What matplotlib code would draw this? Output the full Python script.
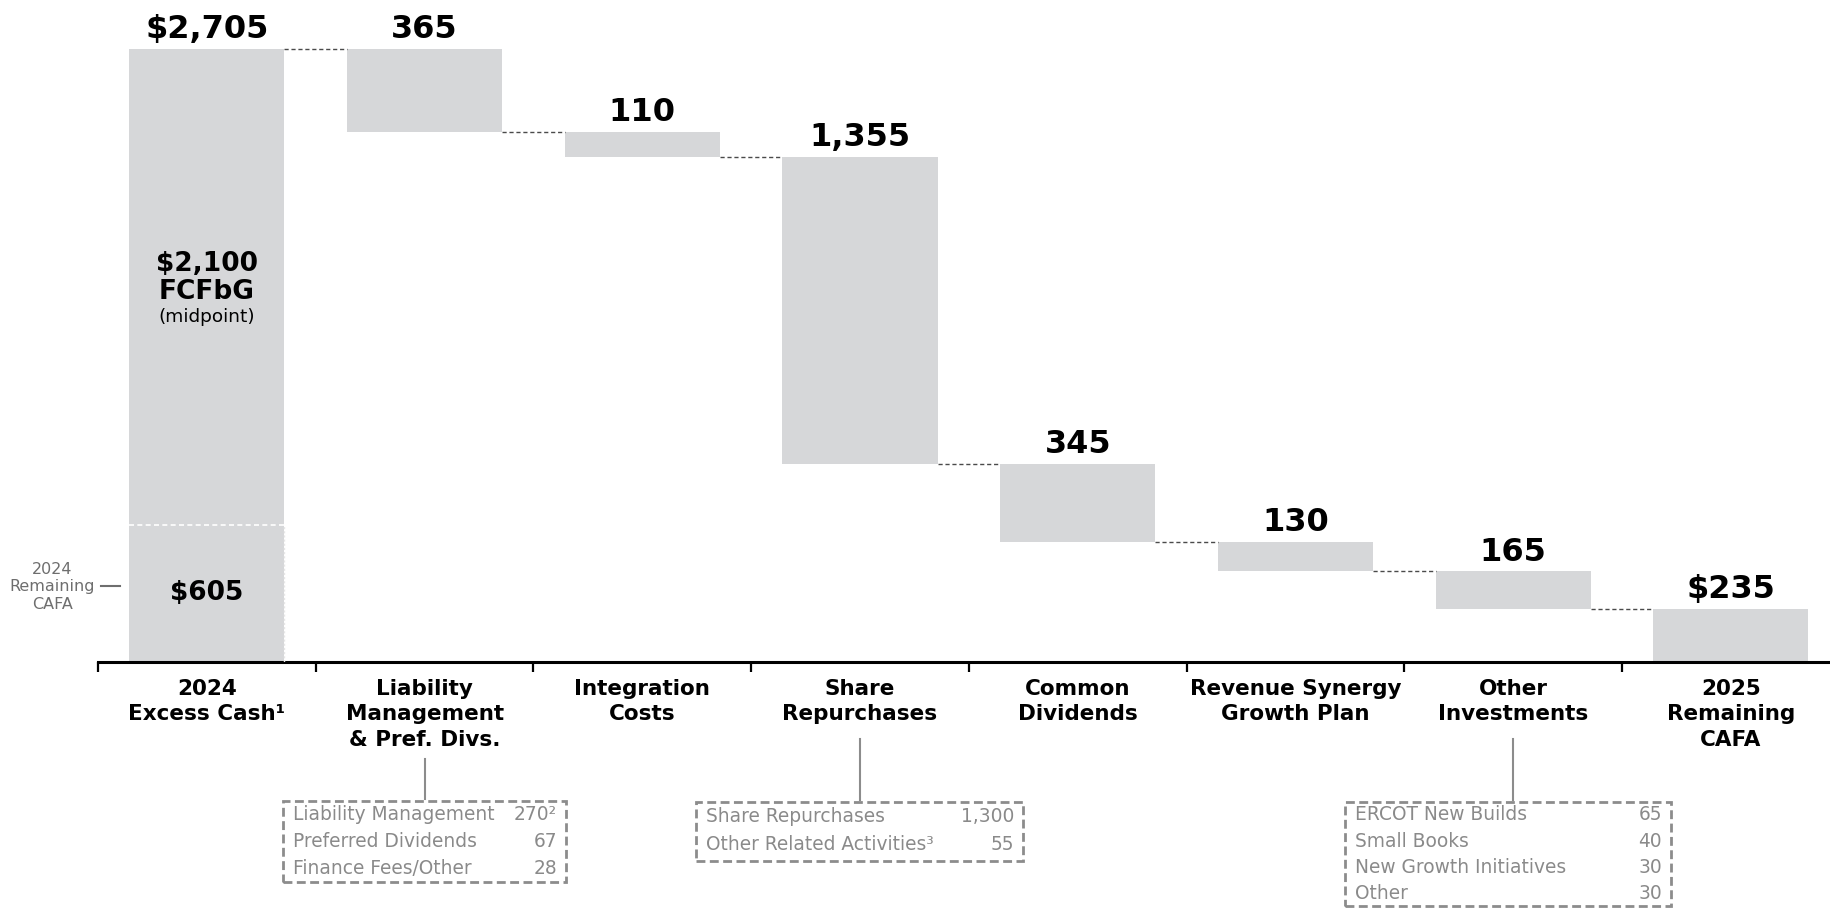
import matplotlib
matplotlib.use("Agg")
import matplotlib.pyplot as plt
import matplotlib.transforms as mtransforms
from matplotlib.patches import Rectangle
from matplotlib.lines import Line2D
import numpy as np

# ---- data -------------------------------------------------------------
categories = [
    "2024\nExcess Cash\u00b9",
    "Liability\nManagement\n& Pref. Divs.",
    "Integration\nCosts",
    "Share\nRepurchases",
    "Common\nDividends",
    "Revenue Synergy\nGrowth Plan",
    "Other\nInvestments",
    "2025\nRemaining\nCAFA",
]
remaining_cafa_2024 = 605
fcfbg_midpoint = 2100
uses = [365, 110, 1355, 345, 130, 165]

liab_items = ["Liability Management", "Preferred Dividends", "Finance Fees/Other"]
liab_values = ["270\u00b2", "67", "28"]
share_items = ["Share Repurchases", "Other Related Activities\u00b3"]
share_values = ["1,300", "55"]
other_items = ["ERCOT New Builds", "Small Books", "New Growth Initiatives", "Other"]
other_values = ["65", "40", "30", "30"]

# ---- derived waterfall levels ------------------------------------------
start_total = remaining_cafa_2024 + fcfbg_midpoint
levels = [start_total]
for u in uses:
    levels.append(levels[-1] - u)
end_total = levels[-1]

# ---- style ---------------------------------------------------------------
W, H = 1831, 909
BAR = "#d6d7d9"
GREY_TXT = "#8a8a8a"
BOX_EDGE = "#8c8c8c"
FONT = "DejaVu Sans"
plt.rcParams["font.family"] = [FONT]

fig = plt.figure(figsize=(W / 100, H / 100), dpi=100)
axis_px = 662
left_px = 98
ax = fig.add_axes([left_px / W, 1 - axis_px / H, 1 - left_px / W, axis_px / H])
ax.set_xlim(-0.5, 7.46)
ax.set_ylim(0, 2921)
for s in ("top", "right", "left"):
    ax.spines[s].set_visible(False)
ax.spines["bottom"].set_linewidth(2.2)
ax.spines["bottom"].set_color("black")
ax.set_yticks([])
ax.set_xticks(np.arange(-0.5, 7.0, 1.0))
ax.set_xticklabels([])
ax.tick_params(axis="x", length=7, width=1.6, direction="out", color="black")

bw = 0.713
n = len(categories)
xs = np.arange(n)

# first column: remaining CAFA + FCFbG stacked
ax.bar(0, remaining_cafa_2024, width=bw, color=BAR, linewidth=0, zorder=2)
ax.bar(0, fcfbg_midpoint, bottom=remaining_cafa_2024, width=bw, color=BAR,
       linewidth=0, zorder=2)
ax.hlines(remaining_cafa_2024, -bw / 2, bw / 2, colors="white",
          linestyles=(0, (3, 2)), linewidth=1.2, zorder=3)
ax.vlines(bw / 2, 0, remaining_cafa_2024, colors="#e6e6e6",
          linestyles=(0, (1.5, 1.5)), linewidth=1.0, zorder=3)

# floating use bars
for i, u in enumerate(uses, start=1):
    ax.bar(i, u, bottom=levels[i], width=bw, color=BAR, linewidth=0, zorder=2)

# ending column
ax.bar(n - 1, end_total, width=bw, color=BAR, linewidth=0, zorder=2)

# connectors
for i in range(n - 1):
    ax.hlines(levels[i], i + bw / 2, i + 1 - bw / 2, colors="#4a4a4a",
              linestyles=(0, (3, 2)), linewidth=1.0, zorder=2)

# value labels
tops = [start_total] + [levels[i - 1] for i in range(1, n - 1)] + [end_total]
labels = ["${:,}".format(start_total)] + ["{:,}".format(u) for u in uses] + \
         ["${:,}".format(end_total)]
for x, t, lab in zip(xs, tops, labels):
    ax.annotate(lab, (x, t), xytext=(0, 10.5), textcoords="offset pixels",
                ha="center", va="baseline", fontsize=23, fontweight="bold",
                color="black")

# labels inside the first column
mid_upper = remaining_cafa_2024 + fcfbg_midpoint / 2
ax.annotate("${:,}".format(fcfbg_midpoint), (0, mid_upper), xytext=(0, 23),
            textcoords="offset pixels", ha="center", va="center",
            fontsize=19, fontweight="bold")
ax.annotate("FCFbG", (0, mid_upper), xytext=(0, -5),
            textcoords="offset pixels", ha="center", va="center",
            fontsize=19, fontweight="bold")
ax.annotate("(midpoint)", (0, mid_upper), xytext=(0, -30),
            textcoords="offset pixels", ha="center", va="center", fontsize=13.3)
ax.annotate("${:,}".format(remaining_cafa_2024), (0, remaining_cafa_2024 / 2),
            ha="center", va="center", fontsize=19, fontweight="bold")

# left side note
fig.text(52.5 / W, 1 - 587 / H, "2024\nRemaining\nCAFA", ha="center",
         va="center", fontsize=11.5, color="#6e6e6e", linespacing=1.2)
fig.add_artist(Line2D([101 / W, 120 / W], [1 - 586 / H, 1 - 586 / H],
                      color="#6e6e6e", linewidth=1.5))

# category labels under the axis
bt = mtransforms.blended_transform_factory(ax.transData, fig.transFigure)
for x, c in zip(xs, categories):
    ax.text(x, 1 - 679 / H, c, transform=bt, ha="center", va="top",
            fontsize=15.5, fontweight="bold", linespacing=1.33,
            multialignment="center", clip_on=False)

# breakdown boxes
px_per_unit = (W - left_px) / 7.96


def breakdown(cx, width_px, top_px, bottom_px, row_first, row_step,
              items, values, stem_top):
    half = width_px / 2 / px_per_unit
    x0, x1 = cx - half, cx + half
    y0, y1 = 1 - bottom_px / H, 1 - top_px / H
    rect = Rectangle((x0, y0), x1 - x0, y1 - y0, transform=bt, fill=False,
                     edgecolor=BOX_EDGE, linewidth=2.0,
                     linestyle=(0, (3.2, 1.6)), clip_on=False)
    ax.add_patch(rect)
    stem_x = round(cx)
    ax.add_line(Line2D([stem_x, stem_x], [1 - stem_top / H, y1 + 2 / H],
                       transform=bt, color=BOX_EDGE, linewidth=1.5,
                       clip_on=False))
    pad_l = 10 / px_per_unit
    pad_r = 9 / px_per_unit
    for k, (it, v) in enumerate(zip(items, values)):
        yy = 1 - (top_px + row_first + k * row_step) / H
        ax.text(x0 + pad_l, yy, it, transform=bt, ha="left", va="center",
                fontsize=13.4, color=GREY_TXT, clip_on=False)
        ax.text(x1 - pad_r, yy, v, transform=bt, ha="right", va="center",
                fontsize=13.4, color=GREY_TXT, clip_on=False)


breakdown(1, 283, 801, 882, 14, 26.5, liab_items, liab_values, 759)
breakdown(3, 327, 802, 861, 14, 29, share_items, share_values, 739)
breakdown(6 - 0.024, 326, 802, 906, 13, 26.3, other_items, other_values, 739)

fig.savefig("out.png", dpi=100)
